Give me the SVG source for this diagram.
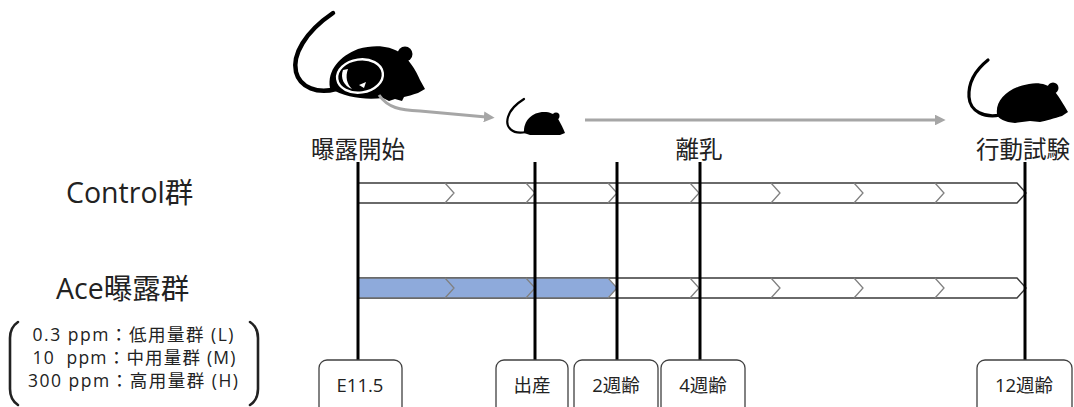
<svg xmlns="http://www.w3.org/2000/svg" width="1074" height="407" viewBox="0 0 1074 407">
  <style>
    text { font-family: "Open Sans", "Noto Sans CJK JP", sans-serif; fill: #222; }
    .lbl { font-size: 23.5px; text-anchor: middle; }
    .grp { font-size: 28.5px; }
    .dose { font-size: 17.5px; text-anchor: middle; white-space: pre; }
    .age { font-size: 18.5px; text-anchor: middle; }
    .bar { fill: #fff; stroke: #3a3a3a; stroke-width: 1.4; }
    .chev { fill: none; stroke: #808080; stroke-width: 1.3; }
    .tick { stroke: #000; stroke-width: 3; }
    .box { fill: #fff; stroke: #404040; stroke-width: 1.3; }
    .flow { fill: none; stroke: #a6a6a6; stroke-width: 3; }
    .mouse { fill: #000; }
    .tail { fill: none; stroke: #000; stroke-linecap: round; }
    .brace { fill: none; stroke: #222; stroke-width: 2.6; stroke-linecap: round; }
  </style>
  <defs>
    <marker id="ah" viewBox="0 0 10 10" refX="2" refY="5" markerWidth="3.6" markerHeight="3.6" orient="auto" markerUnits="strokeWidth">
      <path d="M0,0 L10,5 L0,10 Z" fill="#a6a6a6"/>
    </marker>
  </defs>

  <!-- pregnant dam -->
  <g id="mouse-dam">
    <path class="tail" stroke-width="4.5" d="M336,89 C318,94 300,88 296,72 C292,55 305,32 333,13"/>
    <path class="mouse" d="M330,88 C327,70 340,56 358,49 C375,44 390,46 399,52 C408,58 416,70 420,80 L425,89 L418,93 C412,95 408,96 404,97 L402,101 L395,99 L389,101 L383,98 C366,100 345,98 330,88 Z"/>
    <circle class="mouse" cx="405" cy="54" r="7.5"/>
    <ellipse cx="360" cy="76" rx="23" ry="16.5" fill="none" stroke="#fff" stroke-width="2.4" transform="rotate(-8 360 76)"/>
    <!-- curled embryo leaves a pale gap on the womb's left side -->
    <path d="M343,70 C340,78 344,86 352,89 C347,84 345,77 348,69 Z" fill="#fff"/>
    <path d="M359,85 L366,82 L364,88 Z" fill="#fff"/>
  </g>

  <!-- pup -->
  <g id="mouse-pup">
    <path class="tail" stroke-width="2.2" d="M526,132 C512,135 505,127 508,117 C510,110 516,104 524,99"/>
    <path class="mouse" d="M524,133 C523,121 532,112 544,112 C550,112 554,114 557,117 C560,122 563,128 565,133 L560,135 L530,135 Z"/>
    <circle class="mouse" cx="556" cy="116" r="3.5"/>
  </g>

  <!-- adult for behavioural test -->
  <g id="mouse-adult">
    <path class="tail" stroke-width="3.2" d="M1000,115 C985,118 970,112 969,97 C968,80 978,68 988,60"/>
    <path class="mouse" d="M997,114 C995,100 1009,87 1029,84 C1040,82 1047,85 1052,88 C1058,95 1064,105 1068,112 L1062,116 C1055,118 1045,121 1040,122 L1030,121 L1015,123 C1005,122 998,119 997,114 Z"/>
    <circle class="mouse" cx="1053" cy="88" r="5.5"/>
  </g>

  <!-- flow arrows between stages -->
  <g id="connectors">
    <path class="flow" d="M379,95 C388,108 400,110 420,111 L486,117" marker-end="url(#ah)"/>
    <path class="flow" d="M585,120 L937,120" marker-end="url(#ah)"/>
  </g>

  <!-- stage labels -->
  <g id="stage-labels">
    <text class="lbl" x="358" y="158">曝露開始</text>
    <text class="lbl" x="699" y="158">離乳</text>
    <text class="lbl" x="1023" y="158">行動試験</text>
  </g>

  <!-- group names -->
  <g id="group-control">
    <text class="grp" x="66" y="203">Control群</text>
  </g>
  <g id="group-ace">
    <text class="grp" x="56" y="299">Ace曝露群</text>
  </g>

  <!-- dose list -->
  <g id="dose-list">
    <text class="dose" x="133" y="341" textLength="201">0.3 ppm：低用量群 (L)</text>
    <text class="dose" x="134" y="364" textLength="203">10  ppm：中用量群 (M)</text>
    <text class="dose" x="133" y="387" textLength="210">300 ppm：高用量群 (H)</text>
    <path class="brace" d="M18,322 C12,326 10,331 10,338 L10,389 C10,396 12,401 18,405"/>
    <path class="brace" d="M250,322 C256,326 258,331 258,338 L258,389 C258,396 256,401 250,405"/>
  </g>

  <!-- control timeline bar -->
  <g id="bar-control">
    <path class="bar" d="M358,183 L1017,183 L1026,193 L1017,203 L358,203 Z"/>
    <path class="chev" d="M445,183 L454,193 L445,203 M526,183 L535,193 L526,203 M608,183 L617,193 L608,203 M690,183 L699,193 L690,203 M771,183 L780,193 L771,203 M854,183 L863,193 L854,203 M935,183 L944,193 L935,203"/>
  </g>

  <!-- exposure timeline bar -->
  <g id="bar-ace">
    <path class="bar" d="M358,278 L1017,278 L1026,288 L1017,298 L358,298 Z"/>
    <path d="M358,278.7 L608,278.7 L617,288 L608,297.3 L358,297.3 Z" fill="#8eaadb"/>
    <path class="chev" d="M445,278 L454,288 L445,298 M526,278 L535,288 L526,298 M608,278 L617,288 L608,298 M690,278 L699,288 L690,298 M771,278 L780,288 L771,298 M854,278 L863,288 L854,298 M935,278 L944,288 L935,298"/>
  </g>

  <!-- time points -->
  <g id="tp-e115">
    <line class="tick" x1="358" y1="162" x2="358" y2="360"/>
    <rect class="box" x="319" y="360" width="83" height="60" rx="8"/>
    <text class="age" x="360" y="392">E11.5</text>
  </g>
  <g id="tp-birth">
    <line class="tick" x1="535" y1="162" x2="535" y2="360"/>
    <rect class="box" x="496" y="360" width="72" height="60" rx="8"/>
    <text class="age" x="532" y="392">出産</text>
  </g>
  <g id="tp-2w">
    <line class="tick" x1="617" y1="162" x2="617" y2="360"/>
    <rect class="box" x="574" y="360" width="84" height="60" rx="8"/>
    <text class="age" x="616" y="392">2週齢</text>
  </g>
  <g id="tp-4w">
    <line class="tick" x1="700" y1="162" x2="700" y2="360"/>
    <rect class="box" x="661" y="360" width="84" height="60" rx="8"/>
    <text class="age" x="703" y="392">4週齢</text>
  </g>
  <g id="tp-12w">
    <line class="tick" x1="1025" y1="162" x2="1025" y2="360"/>
    <rect class="box" x="977" y="360" width="95" height="60" rx="8"/>
    <text class="age" x="1024" y="392">12週齢</text>
  </g>
</svg>
